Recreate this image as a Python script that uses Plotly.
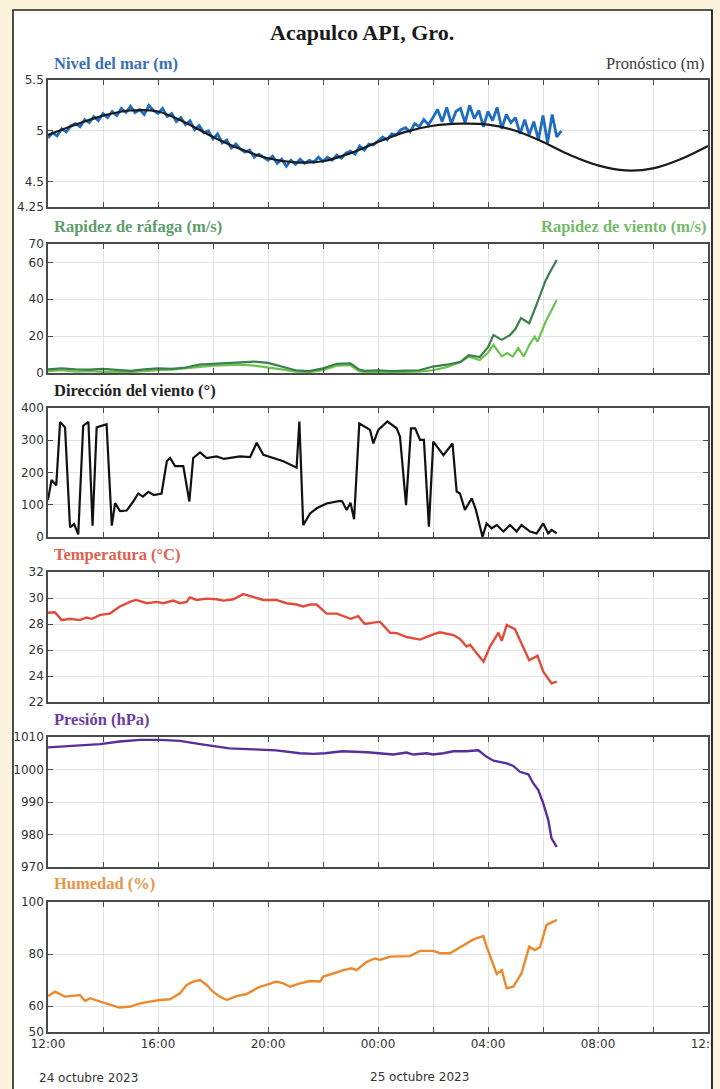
import numpy as np
import pandas as pd
import plotly.graph_objects as go

W, H = 720, 1089
BASE = pd.Timestamp("2023-10-24 12:00")

# ---------------- DATA (hours after 24 Oct 2023 12:00) ----------------
# Sea level observed, every 10 minutes
sea_obs = [
    4.93, 4.98, 4.95, 5.02, 4.99, 5.05,
    5.07, 5.04, 5.11, 5.08, 5.14, 5.10,
    5.17, 5.13, 5.19, 5.15, 5.22, 5.18,
    5.24, 5.18, 5.21, 5.16, 5.25, 5.20,
    5.17, 5.22, 5.14, 5.17, 5.09, 5.13,
    5.06, 5.10, 5.01, 5.05, 4.98, 5.00,
    4.92, 4.97, 4.88, 4.91, 4.83, 4.87,
    4.82, 4.79, 4.81, 4.74, 4.77, 4.74,
    4.71, 4.75, 4.68, 4.72, 4.65, 4.71,
    4.67, 4.72, 4.68, 4.71, 4.69, 4.74,
    4.70, 4.74, 4.71, 4.76, 4.73, 4.78,
    4.80, 4.77, 4.85, 4.81, 4.87, 4.86,
    4.90, 4.94, 4.91, 4.97, 4.96, 5.01,
    5.03, 4.99, 5.07, 5.04, 5.11, 5.06,
    5.13, 5.21, 5.09, 5.23, 5.07, 5.19,
    5.22, 5.08, 5.25, 5.12, 5.20, 5.04,
    5.19, 5.10, 5.23, 5.02, 5.16, 5.08,
    5.13, 4.97, 5.11, 4.96, 5.09, 4.91,
    5.15, 4.88, 5.16, 4.94, 5.00,
]
sea_obs_h = [i / 6 for i in range(len(sea_obs))]

# Sea level forecast, hourly
sea_fc_h = list(range(25))
sea_fc = [4.96, 5.06, 5.15, 5.20, 5.19, 5.08, 4.94, 4.82, 4.73, 4.69, 4.70, 4.78,
          4.89, 4.99, 5.05, 5.07, 5.06, 5.00, 4.89, 4.76, 4.66, 4.61, 4.63, 4.72, 4.85]

# Gust speed
gust_h = [0, 0.5, 1, 1.5, 2, 2.5, 3, 3.5, 4, 4.5, 5, 5.5, 6, 6.5, 7, 7.5, 8, 8.5, 9, 9.5,
          10, 10.5, 11, 11.3, 11.5, 12, 12.5, 13, 13.5, 14, 14.5, 15, 15.3, 15.7, 16, 16.2,
          16.5, 16.8, 17.0, 17.2, 17.5, 17.8, 18.1, 18.3, 18.5]
gust = [2, 2.5, 2, 1.8, 2.2, 1.5, 1.2, 2.0, 2.5, 2.2, 3, 4.5, 5, 5.5, 6, 6.2, 5.5, 3.5, 1.5, 1.0,
        2.5, 5, 5.2, 2, 1.2, 1.5, 1.0, 1.3, 1.5, 3.5, 4.5, 6, 9.7, 8.7, 14, 20.6,
        18, 20.6, 24, 29.8, 27, 38.5, 50.4, 56, 61.3]

# Wind speed
wind_h = [0, 0.5, 1, 1.5, 2, 2.5, 3, 3.5, 4, 4.5, 5, 5.5, 6, 6.5, 7, 7.5, 8, 8.5, 9, 9.5,
          10, 10.5, 11, 11.3, 11.5, 12, 12.5, 13, 13.5, 14, 14.5, 15, 15.3, 15.7, 16, 16.2,
          16.5, 16.7, 16.9, 17.1, 17.3, 17.5, 17.7, 17.8, 18.1, 18.5]
wind = [1, 1.5, 0.8, 1.0, 0.6, 0.8, 0.5, 1.2, 1.5, 1.8, 2.5, 3.5, 4, 4.2, 4.5, 4.0, 3.2, 2.0, 0.8, 0.5,
        1.5, 4, 4.2, 1.0, 0.5, 0.8, 0.5, 0.6, 0.8, 1.5, 3.2, 6, 8.9, 7, 11, 15.2,
        9, 10.8, 8.9, 13.5, 9, 15.2, 19.7, 17, 27.9, 39.6]

# Wind direction
dir_h = [0, 0.13, 0.3, 0.44, 0.62, 0.8, 0.95, 1.1, 1.28, 1.47, 1.62, 1.77, 2.13, 2.32, 2.44,
         2.62, 2.86, 3.1, 3.28, 3.45, 3.65, 3.85, 4.13, 4.32, 4.44, 4.62, 4.92, 5.14, 5.28,
         5.53, 5.77, 6.13, 6.4, 6.98, 7.35, 7.59, 7.83, 8.19, 8.56, 9.04, 9.14, 9.28, 9.53,
         9.77, 10.13, 10.62, 10.7, 10.86, 11.0, 11.13, 11.32, 11.71, 11.83, 12.01, 12.34,
         12.68, 12.8, 13.02, 13.2, 13.35, 13.53, 13.67, 13.85, 14.01, 14.38, 14.71, 14.86,
         14.98, 15.16, 15.41, 15.56, 15.8, 15.95, 16.13, 16.32, 16.56, 16.8, 17.04, 17.22,
         17.53, 17.77, 18.01, 18.19, 18.31, 18.5]
direction = [115, 177, 160, 357, 340, 30, 40, 8, 345, 357, 35, 340, 350, 35, 105,
             80, 82, 110, 135, 125, 140, 130, 135, 235, 245, 220, 220, 110, 245,
             262, 245, 250, 242, 250, 248, 292, 255, 245, 235, 215, 358, 37, 73,
             89, 104, 112, 110, 84, 106, 55, 352, 332, 290, 332, 358,
             337, 311, 99, 337, 337, 301, 301, 32, 296, 254, 290, 141,
             135, 84, 120, 84, 1, 42, 27, 37, 17, 37, 17, 37,
             17, 11, 42, 11, 22, 11]

# Temperature
temp_h = [0, 0.25, 0.5, 0.8, 1.16, 1.4, 1.6, 1.9, 2.25, 2.6, 3.0, 3.2, 3.6, 3.95, 4.2, 4.55,
          4.8, 5.04, 5.16, 5.4, 5.77, 6.13, 6.38, 6.74, 7.1, 7.47, 7.83, 8.3, 8.68, 9.04,
          9.28, 9.53, 9.77, 10.13, 10.5, 11.0, 11.28, 11.52, 12.07, 12.44, 12.68, 13.04,
          13.53, 14.01, 14.25, 14.74, 14.98, 15.22, 15.35, 15.53, 15.84, 16.07, 16.38,
          16.5, 16.68, 16.98, 17.22, 17.5, 17.8, 18.01, 18.31, 18.5]
temp = [28.87, 28.9, 28.3, 28.4, 28.3, 28.5, 28.4, 28.7, 28.8, 29.33, 29.72, 29.85, 29.6, 29.7, 29.6, 29.8,
        29.6, 29.7, 30.05, 29.85, 29.95, 29.9, 29.8, 29.9, 30.3, 30.1, 29.85, 29.85, 29.6, 29.5,
        29.35, 29.5, 29.5, 28.8, 28.8, 28.4, 28.6, 28.0, 28.18, 27.33, 27.3, 27.0,
        26.8, 27.2, 27.36, 27.15, 26.85, 26.26, 26.4, 25.9, 25.1, 26.26, 27.33,
        26.7, 27.92, 27.6, 26.5, 25.2, 25.56, 24.33, 23.44, 23.56]

# Pressure
pres_h = [0, 1.28, 1.9, 2.6, 3.35, 4.07, 4.8, 5.53, 6.0, 6.6, 7.47, 8.3, 9.16, 9.65, 10.07,
          10.7, 11.6, 12.56, 13.04, 13.28, 13.77, 14.0, 14.38, 14.74, 15.2, 15.65, 15.95,
          16.2, 16.68, 16.92, 17.16, 17.47, 17.65, 17.83, 18.01, 18.19, 18.31, 18.5]
pres = [1006.8, 1007.5, 1007.8, 1008.6, 1009.1, 1009.1, 1008.8, 1007.8, 1007.3, 1006.5, 1006.2,
        1005.9, 1005.0, 1004.8, 1005.0, 1005.6, 1005.3, 1004.6, 1005.2, 1004.6, 1005.0, 1004.6,
        1005.0, 1005.6, 1005.6, 1005.9, 1003.9, 1002.7, 1001.9, 1001.1, 999.3, 998.5, 995.7,
        993.7, 989.6, 984.5, 978.8, 976.2]

# Humidity
hum_h = [0, 0.25, 0.62, 0.92, 1.16, 1.35, 1.53, 1.9, 2.25, 2.6, 3.0, 3.35, 3.7, 4.07, 4.44,
         4.8, 5.04, 5.28, 5.53, 5.77, 6.0, 6.25, 6.5, 6.86, 7.22, 7.47, 7.7, 7.95, 8.3, 8.56,
         8.8, 9.16, 9.53, 9.9, 10.01, 10.4, 10.74, 11.04, 11.22, 11.59, 11.89, 12.07, 12.44,
         13.16, 13.53, 14.01, 14.25, 14.62, 14.98, 15.47, 15.83, 15.95, 16.32, 16.5, 16.68,
         16.92, 17.22, 17.5, 17.7, 17.89, 18.13, 18.5]
hum = [63.8, 65.5, 63.6, 63.8, 64.2, 61.9, 63.0, 61.7, 60.4, 59.4, 59.8, 61.0, 61.7, 62.3, 62.6,
       64.9, 68.1, 69.4, 70.0, 68.1, 65.5, 63.6, 62.3, 63.8, 64.6, 66.2, 67.4, 68.1, 69.4, 68.7,
       67.4, 68.7, 69.6, 69.4, 71.3, 72.6, 73.8, 74.5, 73.8, 77.0, 78.3, 77.7, 79.0,
       79.2, 81.2, 81.2, 80.3, 80.3, 82.6, 85.6, 86.9, 82.8, 72.3, 73.8, 66.8,
       67.4, 72.6, 82.8, 81.5, 82.6, 91.2, 93.1]

# Axis ticks
x_tick_hours = list(range(0, 25, 2))
x_tick_text = ["12:00", "", "16:00", "", "20:00", "", "00:00", "", "04:00", "", "08:00", "", "12:00"]
y_ticks = [
    ([4.25, 4.5, 5, 5.5], ["4.25", "4.5", "5", "5.5"], [4.25, 5.5]),
    ([0, 20, 40, 60, 70], ["0", "20", "40", "60", "70"], [0, 70]),
    ([0, 100, 200, 300, 400], ["0", "100", "200", "300", "400"], [0, 400]),
    ([22, 24, 26, 28, 30, 32], ["22", "24", "26", "28", "30", "32"], [22, 32]),
    ([970, 980, 990, 1000, 1010], ["970", "980", "990", "1000", "1010"], [970, 1010]),
    ([50, 60, 80, 100], ["50", "60", "80", "100"], [50, 100]),
]

# ---------------- STYLE ----------------
CREAM = "#fcf3dc"
SANS = "DejaVu Sans"
SERIF = "Liberation Serif"
panel_px = [(80, 207), (244, 373), (408, 537), (572, 702), (737, 867), (902, 1032)]
X0, X1 = 48, 708


def t(hours):
    return [BASE + pd.Timedelta(hours=float(h)) for h in hours]


def px_y(p):
    return 1 - p / H


fig = go.Figure()

series = [
    (1, sea_obs_h, sea_obs, "#1f6cc0", 2.8, "linear"),
    (1, sea_fc_h, sea_fc, "#1a1a1a", 2.2, "spline"),
    (2, wind_h, wind, "#6cc24f", 2.2, "linear"),
    (2, gust_h, gust, "#3b7f4b", 2.2, "linear"),
    (3, dir_h, direction, "#111111", 2.2, "linear"),
    (4, temp_h, temp, "#e24b3b", 2.4, "linear"),
    (5, pres_h, pres, "#5a2e99", 2.4, "linear"),
    (6, hum_h, hum, "#ea8a2c", 2.4, "linear"),
]
for i, hh, vv, col, w, shape in series:
    sfx = "" if i == 1 else str(i)
    fig.add_trace(go.Scatter(x=t(hh), y=vv, mode="lines",
                             line=dict(color=col, width=w, shape=shape),
                             xaxis="x" + sfx, yaxis="y" + sfx, showlegend=False,
                             hoverinfo="skip"))

layout = dict(
    width=W, height=H, autosize=False,
    margin=dict(l=0, r=0, t=0, b=0, pad=0, autoexpand=False),
    paper_bgcolor=CREAM, plot_bgcolor="white",
    showlegend=False,
)
xrange = [BASE, BASE + pd.Timedelta(hours=24)]
for i in range(1, 7):
    sfx = "" if i == 1 else str(i)
    top, bot = panel_px[i - 1]
    tv, tt, rng = y_ticks[i - 1]
    common = dict(showline=True, linecolor="#4a4a4a", linewidth=1.6, mirror="ticks",
                  ticks="inside", ticklen=5, tickwidth=1.2, tickcolor="#4a4a4a",
                  showgrid=True, gridcolor="#e3e3e3", gridwidth=1, zeroline=False,
                  automargin=False, ticklabeloverflow="allow",
                  tickfont=dict(family=SANS, size=12, color="#333333"), fixedrange=True)
    layout["xaxis" + sfx] = dict(
        common, domain=[X0 / W, X1 / W], anchor="y" + sfx, range=xrange, type="date",
        tickmode="array", tickvals=t(x_tick_hours), ticktext=x_tick_text,
        showticklabels=(i == 6))
    layout["yaxis" + sfx] = dict(
        common, domain=[px_y(bot), px_y(top)], anchor="x" + sfx, range=rng,
        tickmode="array", tickvals=tv, ticktext=tt)
fig.update_layout(**layout)

# Frame: white panel, with border
fig.add_shape(type="rect", xref="paper", yref="paper", x0=13 / W, x1=712 / W,
              y0=-0.02, y1=px_y(10), fillcolor="white",
              line=dict(color="#222222", width=1.6), layer="below")
# right cream strip clipping the last tick label
fig.add_shape(type="rect", xref="paper", yref="paper", x0=712.8 / W, x1=1.01,
              y0=-0.02, y1=1.01, fillcolor=CREAM, line=dict(width=0), layer="above")
fig.add_shape(type="line", xref="paper", yref="paper", x0=712 / W, x1=712 / W,
              y0=-0.02, y1=px_y(10), line=dict(color="#222222", width=1.6), layer="above")

annotations = [
    ("Acapulco API, Gro.", 362, 33, "center", SERIF, 22, "#1a1a1a", True),
    ("Nivel del mar (m)", 52, 63, "left", SERIF, 16.5, "#3b6fb4", True),
    ("Pronóstico (m)", 707, 63, "right", SERIF, 16.5, "#3a3a3a", False),
    ("Rapidez de ráfaga (m/s)", 52, 226, "left", SERIF, 16.5, "#5c9d6b", True),
    ("Rapidez de viento (m/s)", 708, 226, "right", SERIF, 16.5, "#76b96a", True),
    ("Dirección del viento (°)", 52, 390, "left", SERIF, 16.5, "#222222", True),
    ("Temperatura (°C)", 52, 554, "left", SERIF, 16.5, "#e0604f", True),
    ("Presión (hPa)", 52, 719, "left", SERIF, 16.5, "#6a3d9f", True),
    ("Humedad (%)", 52, 883, "left", SERIF, 16.5, "#e8954a", True),
    ("24 octubre 2023", 37, 1078, "left", SANS, 12, "#333333", False),
    ("25 octubre 2023", 368, 1077, "left", SANS, 12, "#333333", False),
]
for text, x, y, anchor, fam, size, col, bold in annotations:
    fig.add_annotation(text=f"<b>{text}</b>" if bold else text,
                       xref="paper", yref="paper", x=x / W, y=px_y(y),
                       xanchor=anchor, yanchor="middle", showarrow=False,
                       font=dict(family=fam, size=size, color=col))

fig.write_html("out.html", config={"responsive": False, "displayModeBar": False},
               post_script="document.body.style.margin='0px';"
                           "document.body.style.overflow='hidden';")
